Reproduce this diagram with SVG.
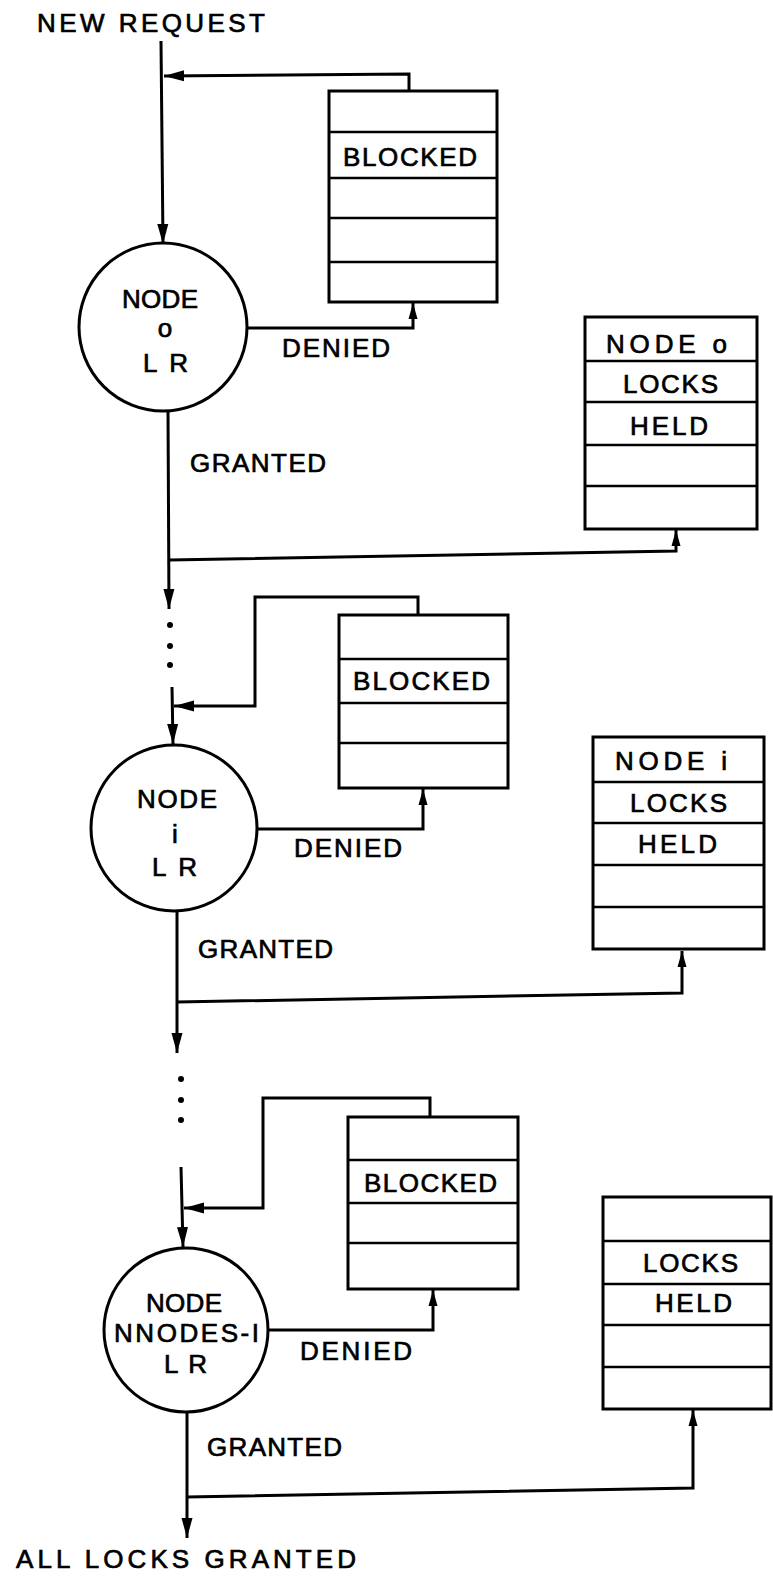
<svg xmlns="http://www.w3.org/2000/svg" width="773" height="1578" viewBox="0 0 773 1578">
<style>
.t{font-family:"Liberation Sans",Arial,sans-serif;font-size:26px;fill:#000;stroke:#000;stroke-width:0.7}
.c{fill:#fff;stroke:#000;stroke-width:3}
.b{fill:#fff;stroke:#000;stroke-width:3}
.r{stroke:#000;stroke-width:2.5;fill:none}
.l{stroke:#000;stroke-width:3;fill:none;stroke-linejoin:miter}
.d{fill:#000}
</style>
<defs>
<marker id="ah" markerUnits="userSpaceOnUse" markerWidth="20" markerHeight="12" viewBox="0 0 20 12" refX="20" refY="6" orient="auto">
<path d="M0,0.5 L20,6 L0,11.5 Z" fill="#000"/>
</marker>
<marker id="ahs" markerUnits="userSpaceOnUse" markerWidth="16" markerHeight="10" viewBox="0 0 16 10" refX="16" refY="5" orient="auto">
<path d="M0,0.5 L16,5 L0,9.5 Z" fill="#000"/>
</marker>
</defs>
<rect width="773" height="1578" fill="#fff"/>

<g id="connectors">
<line class="l" x1="161" y1="41" x2="163" y2="244" marker-end="url(#ah)"/>
<polyline class="l" points="409,91 409,74 164,76" marker-end="url(#ah)"/>
<polyline class="l" points="247,328 413,328 413,303" marker-end="url(#ahs)"/>
<line class="l" x1="168" y1="410" x2="169" y2="609" marker-end="url(#ah)"/>
<polyline class="l" points="169,560 676,551 676,530" marker-end="url(#ahs)"/>
<line class="l" x1="172" y1="687" x2="173" y2="744" marker-end="url(#ah)"/>
<polyline class="l" points="418,615 418,597 255,597 255,706 174,706" marker-end="url(#ah)"/>
<polyline class="l" points="257,829 423,829 423,789" marker-end="url(#ahs)"/>
<line class="l" x1="177" y1="911" x2="177" y2="1053" marker-end="url(#ah)"/>
<polyline class="l" points="177,1002 682,993 682,951" marker-end="url(#ahs)"/>
<line class="l" x1="181" y1="1167" x2="183" y2="1247" marker-end="url(#ah)"/>
<polyline class="l" points="430,1117 430,1098 263,1098 263,1208 184,1208" marker-end="url(#ah)"/>
<polyline class="l" points="268,1330 433,1330 433,1290" marker-end="url(#ahs)"/>
<line class="l" x1="187" y1="1412" x2="187" y2="1538" marker-end="url(#ah)"/>
<polyline class="l" points="187,1497 693,1488 693,1410" marker-end="url(#ahs)"/>
<circle class="d" cx="170" cy="625" r="3"/>
<circle class="d" cx="170" cy="646" r="3"/>
<circle class="d" cx="170" cy="665" r="3"/>
<circle class="d" cx="181" cy="1079" r="3"/>
<circle class="d" cx="181" cy="1100" r="3"/>
<circle class="d" cx="181" cy="1120" r="3"/>
</g>

<g id="labels">
<text class="t" x="37" y="32" textLength="228" lengthAdjust="spacing">NEW REQUEST</text>
<text class="t" x="282" y="357" textLength="108" lengthAdjust="spacing">DENIED</text>
<text class="t" x="190" y="472" textLength="136" lengthAdjust="spacing">GRANTED</text>
<text class="t" x="294" y="857" textLength="108" lengthAdjust="spacing">DENIED</text>
<text class="t" x="198" y="958" textLength="135" lengthAdjust="spacing">GRANTED</text>
<text class="t" x="300" y="1360" textLength="112" lengthAdjust="spacing">DENIED</text>
<text class="t" x="207" y="1456" textLength="135" lengthAdjust="spacing">GRANTED</text>
<text class="t" x="16" y="1568" textLength="340" lengthAdjust="spacing">ALL LOCKS GRANTED</text>
</g>

<g id="node0">
<circle class="c" cx="163" cy="327" r="84"/>
<text class="t" x="122" y="308" textLength="76" lengthAdjust="spacing">NODE</text>
<text class="t" x="165" y="337" text-anchor="middle">o</text>
<text class="t" x="143" y="372" textLength="45" lengthAdjust="spacing">L R</text>
</g>

<g id="blocked0">
<rect class="b" x="329" y="91" width="168" height="211"/>
<line class="r" x1="329" y1="132" x2="497" y2="132"/>
<line class="r" x1="329" y1="178" x2="497" y2="178"/>
<line class="r" x1="329" y1="218" x2="497" y2="218"/>
<line class="r" x1="329" y1="262" x2="497" y2="262"/>
<text class="t" x="343" y="166" textLength="134" lengthAdjust="spacing">BLOCKED</text>
</g>

<g id="held0">
<rect class="b" x="585" y="317" width="172" height="212"/>
<line class="r" x1="585" y1="361" x2="757" y2="361"/>
<line class="r" x1="585" y1="402" x2="757" y2="402"/>
<line class="r" x1="585" y1="445" x2="757" y2="445"/>
<line class="r" x1="585" y1="486" x2="757" y2="486"/>
<text class="t" x="606" y="353" textLength="121" lengthAdjust="spacing">NODE o</text>
<text class="t" x="623" y="393" textLength="95" lengthAdjust="spacing">LOCKS</text>
<text class="t" x="630" y="435" textLength="78" lengthAdjust="spacing">HELD</text>
</g>

<g id="nodei">
<circle class="c" cx="174" cy="828" r="83"/>
<text class="t" x="137" y="808" textLength="80" lengthAdjust="spacing">NODE</text>
<text class="t" x="175" y="843" text-anchor="middle">i</text>
<text class="t" x="152" y="876" textLength="45" lengthAdjust="spacing">L R</text>
</g>

<g id="blockedi">
<rect class="b" x="339" y="615" width="169" height="173"/>
<line class="r" x1="339" y1="659" x2="508" y2="659"/>
<line class="r" x1="339" y1="703" x2="508" y2="703"/>
<line class="r" x1="339" y1="743" x2="508" y2="743"/>
<text class="t" x="353" y="690" textLength="137" lengthAdjust="spacing">BLOCKED</text>
</g>

<g id="heldi">
<rect class="b" x="593" y="737" width="171" height="212"/>
<line class="r" x1="593" y1="782" x2="764" y2="782"/>
<line class="r" x1="593" y1="823" x2="764" y2="823"/>
<line class="r" x1="593" y1="865" x2="764" y2="865"/>
<line class="r" x1="593" y1="907" x2="764" y2="907"/>
<text class="t" x="615" y="770" textLength="112" lengthAdjust="spacing">NODE i</text>
<text class="t" x="630" y="812" textLength="97" lengthAdjust="spacing">LOCKS</text>
<text class="t" x="638" y="853" textLength="79" lengthAdjust="spacing">HELD</text>
</g>

<g id="nodeN">
<circle class="c" cx="186" cy="1330" r="82"/>
<text class="t" x="146" y="1312" textLength="76" lengthAdjust="spacing">NODE</text>
<text class="t" x="114" y="1342" textLength="145" lengthAdjust="spacing">NNODES-I</text>
<text class="t" x="164" y="1373" textLength="43" lengthAdjust="spacing">L R</text>
</g>

<g id="blockedN">
<rect class="b" x="348" y="1117" width="170" height="172"/>
<line class="r" x1="348" y1="1160" x2="518" y2="1160"/>
<line class="r" x1="348" y1="1203" x2="518" y2="1203"/>
<line class="r" x1="348" y1="1243" x2="518" y2="1243"/>
<text class="t" x="364" y="1192" textLength="133" lengthAdjust="spacing">BLOCKED</text>
</g>

<g id="heldN">
<rect class="b" x="603" y="1197" width="168" height="212"/>
<line class="r" x1="603" y1="1241" x2="771" y2="1241"/>
<line class="r" x1="603" y1="1284" x2="771" y2="1284"/>
<line class="r" x1="603" y1="1325" x2="771" y2="1325"/>
<line class="r" x1="603" y1="1367" x2="771" y2="1367"/>
<text class="t" x="643" y="1272" textLength="95" lengthAdjust="spacing">LOCKS</text>
<text class="t" x="655" y="1312" textLength="77" lengthAdjust="spacing">HELD</text>
</g>
</svg>
